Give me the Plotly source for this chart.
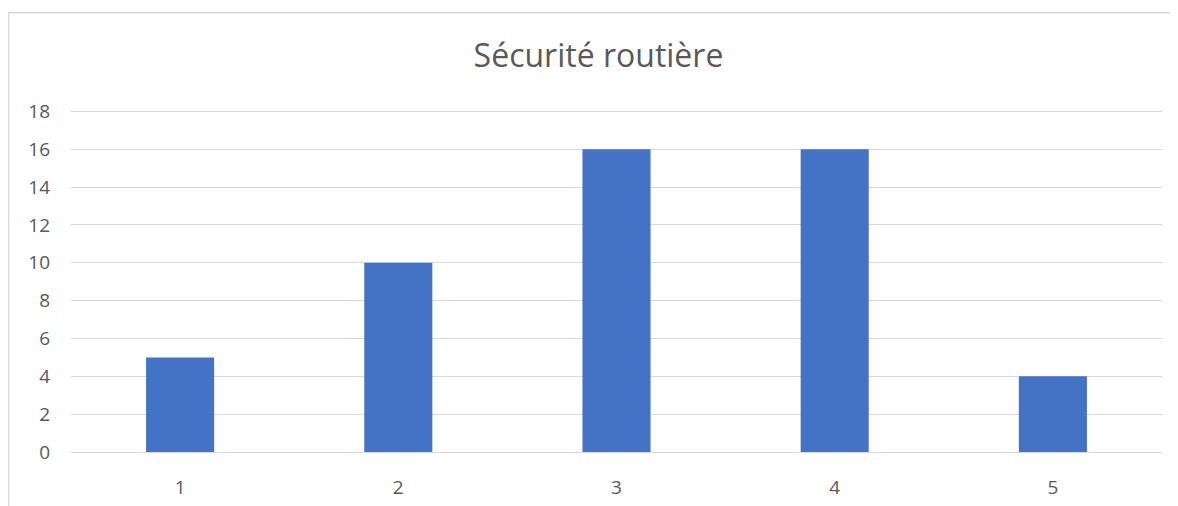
import plotly.graph_objects as go

categories = ["1", "2", "3", "4", "5"]
values = [5, 10, 16, 16, 4]
y_ticks = [0, 2, 4, 6, 8, 10, 12, 14, 16, 18]

OFF = 8  # page body margin
W, H = 1178 - OFF, 506 - OFF
YMAX = 18.5
unit = (452.5 - 111) / 18.0
top_screen = 452.5 - YMAX * unit
L = 71 - OFF
R = W - (1162 - OFF)
T = top_screen - OFF
B = H - (452.5 - OFF)
pw = W - L - R
ph = H - T - B

fig = go.Figure(go.Bar(
    x=categories, y=values,
    marker=dict(color="#4472C4", line=dict(width=0)),
    width=0.312,
))

def px_x(p):
    return (p - OFF - L) / pw

def px_y(p):
    return (H - B - (p - OFF)) / ph

fig.update_layout(
    width=W, height=H,
    margin=dict(l=L, r=R, t=T, b=B, autoexpand=False),
    paper_bgcolor="white", plot_bgcolor="white",
    font=dict(family="Open Sans", color="#595959", size=19),
    title=dict(text="Sécurité routière", x=(598.5 - OFF) / W, xanchor="center",
               xref="container", y=1 - (56 - OFF) / H, yanchor="middle",
               yref="container",
               font=dict(size=32, color="#595959", family="Open Sans")),
    showlegend=False,
    bargap=0.688,
    xaxis=dict(type="category", showgrid=False, showline=False, zeroline=False,
               automargin=False,
               ticks="", tickfont=dict(size=19, color="#595959"), ticklabelstandoff=22),
    yaxis=dict(range=[0, YMAX], tickvals=y_ticks, showgrid=True, gridcolor="#D9D9D9",
               automargin=False,
               gridwidth=1.3, zeroline=True, zerolinecolor="#D9D9D9", zerolinewidth=1.3,
               showline=False, ticks="", tickfont=dict(size=19, color="#595959"),
               ticklabelstandoff=20),
    shapes=[dict(type="rect", xref="paper", yref="paper",
                 x0=px_x(8.7), x1=px_x(1250), y0=px_y(560), y1=px_y(12),
                 line=dict(color="#D9D9D9", width=1.3), fillcolor="rgba(0,0,0,0)",
                 layer="below")],
)

fig.write_html("out.html")
